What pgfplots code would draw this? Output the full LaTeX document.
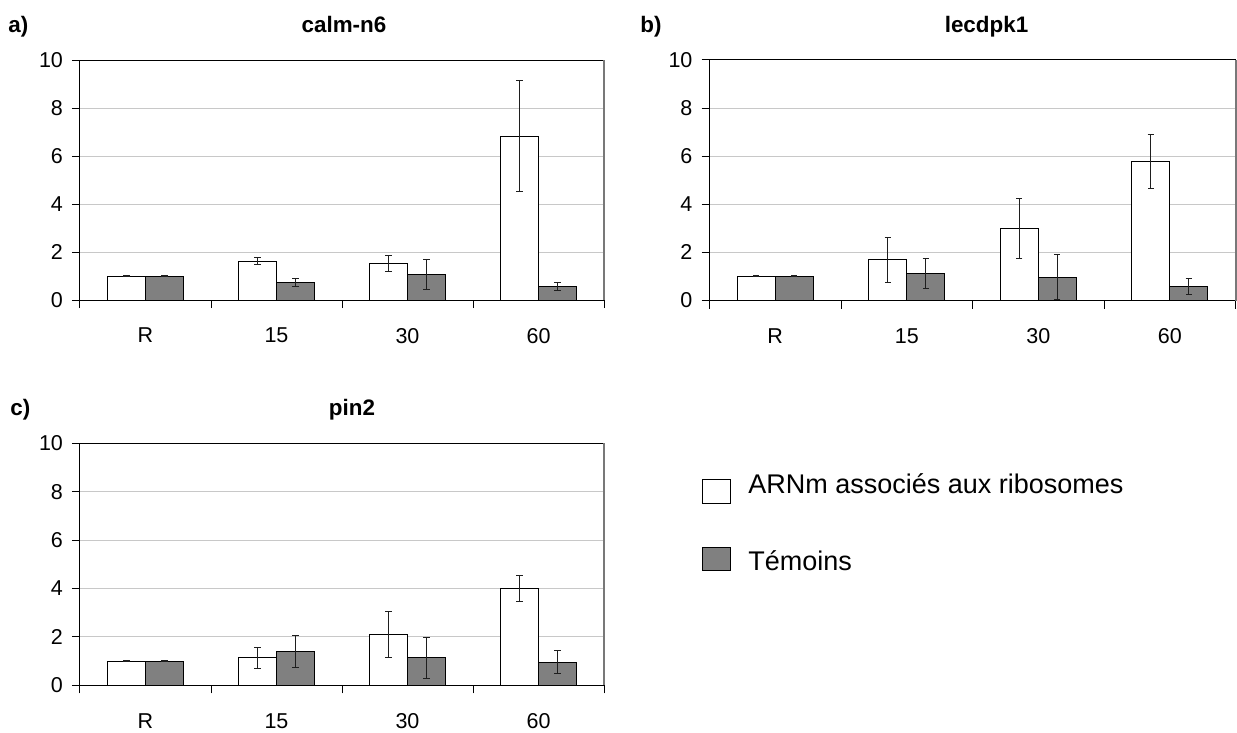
\documentclass[border=0pt]{standalone}
\usepackage{fontspec}
\setmainfont{Liberation Sans}
\usepackage{pgfplots}
\usepackage{pgfplotstable}
\pgfplotsset{compat=1.18}
\definecolor{barg}{RGB}{128,128,128}
\definecolor{gridc}{RGB}{200,200,200}
\definecolor{errc}{RGB}{30,30,30}
\definecolor{edgec}{RGB}{120,120,120}

\pgfplotstableread{
x w we g ge
0 1.00 0.02 1.00 0.02
1 1.62 0.14 0.74 0.16
2 1.52 0.35 1.07 0.62
3 6.83 2.32 0.57 0.18
}\dataA
\pgfplotstableread{
x w we g ge
0 1.00 0.02 1.00 0.02
1 1.69 0.95 1.11 0.63
2 2.99 1.25 0.97 0.93
3 5.78 1.12 0.60 0.33
}\dataB
\pgfplotstableread{
x w we g ge
0 1.00 0.02 1.00 0.02
1 1.14 0.43 1.39 0.67
2 2.11 0.95 1.13 0.85
3 3.99 0.53 0.96 0.47
}\dataC

\pgfplotsset{
  panel/.style={
    scale only axis,
    width=262pt, height=120pt,
    ybar=0pt, bar width=19pt,
    xmin=-0.5, xmax=3.5, ymin=0, ymax=10,
    ytick={0,2,...,10},
    xtick={-0.5,0.5,1.5,2.5,3.5}, xticklabels={},
    extra x ticks={0,1,2,3}, extra x tick labels={R,15,30,60},
    extra x tick style={major tick length=0pt, grid=none},
    xtick pos=bottom, ytick pos=left,
    ymajorgrids, grid style={gridc, line width=0.5pt},
    tick align=outside, major tick length=4pt,
    tick style={black, line width=0.5pt},
    axis line style={black, line width=0.5pt},
    /pgf/number format/assume math mode=true,
    tick label style={font=\fontsize{10.75}{12}\selectfont},
    yticklabel style={xshift=-1pt},
    xticklabel style={yshift=-10.5pt},
    clip=false,
  },
  wbar/.style={draw=black, fill=white, line width=0.5pt,
    error bars/.cd, y dir=both, y explicit,
    error bar style={errc, line width=0.5pt},
    error mark options={rotate=90, mark size=1.6pt, errc, line width=0.5pt}},
  gbar/.style={draw=black, fill=barg, line width=0.5pt,
    error bars/.cd, y dir=both, y explicit,
    error bar style={errc, line width=0.5pt},
    error mark options={rotate=90, mark size=1.6pt, errc, line width=0.5pt}},
}

\begin{document}
\begin{tikzpicture}
\path[use as bounding box] (0,0) rectangle (618.5pt,-366.5pt);

% panel a
\begin{axis}[panel, at={(40pt,-150pt)}, anchor=south west]
\addplot[wbar] table[x=x, y=w, y error=we] {\dataA};
\addplot[gbar] table[x=x, y=g, y error=ge] {\dataA};
\draw[edgec, line width=1pt] (rel axis cs:1,0) -- (rel axis cs:1,1);
\end{axis}

% panel b
\begin{axis}[panel, width=263pt, height=120.25pt, at={(354.75pt,-150.25pt)}, anchor=south west]
\addplot[wbar] table[x=x, y=w, y error=we] {\dataB};
\addplot[gbar] table[x=x, y=g, y error=ge] {\dataB};
\draw[edgec, line width=1pt] (rel axis cs:1,0) -- (rel axis cs:1,1);
\end{axis}

% panel c
\begin{axis}[panel, height=121pt, at={(40pt,-342.65pt)}, anchor=south west]
\addplot[wbar] table[x=x, y=w, y error=we] {\dataC};
\addplot[gbar] table[x=x, y=g, y error=ge] {\dataC};
\draw[edgec, line width=1pt] (rel axis cs:1,0) -- (rel axis cs:1,1);
\end{axis}

% titles
\begin{scope}[every node/.style={inner sep=0pt, font=\bfseries\fontsize{11.2}{13}\selectfont}]
\node[anchor=base] at (172pt,-16.5pt) {calm-n6};
\node[anchor=base] at (493.25pt,-16.5pt) {lecdpk1};
\node[anchor=base] at (176pt,-207.5pt) {pin2};
\node[anchor=base west] at (4pt,-16.5pt) {a)};
\node[anchor=base west] at (320pt,-16.5pt) {b)};
\node[anchor=base west] at (5pt,-207.5pt) {c)};
\end{scope}

% legend
\draw[black, line width=0.5pt, fill=white] (351.35pt,-239.5pt) rectangle (365pt,-251.5pt);
\draw[black, line width=0.5pt, fill=barg] (351.35pt,-273.5pt) rectangle (365pt,-285pt);
\begin{scope}[every node/.style={inner sep=0pt, font=\fontsize{13.5}{15}\selectfont}]
\node[anchor=base west] at (374pt,-246.6pt) {ARNm associés aux ribosomes};
\node[anchor=base west] at (374pt,-285pt) {Témoins};
\end{scope}
\end{tikzpicture}
\end{document}
